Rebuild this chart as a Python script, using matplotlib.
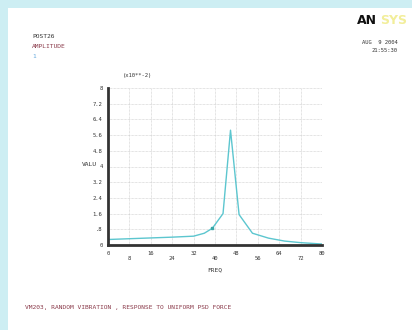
import matplotlib
matplotlib.use("Agg")
import matplotlib.pyplot as plt
from matplotlib.patches import Rectangle

# frequency response values (x10**-2)
freq = [0, 8, 16, 24, 32, 36, 39, 43, 45.8, 49, 54, 60, 66, 72, 80]
valu = [0.28, 0.32, 0.36, 0.4, 0.45, 0.6, 0.85, 1.6, 5.85, 1.55, 0.6, 0.35, 0.2, 0.12, 0.05]

xticks = [0, 8, 16, 24, 32, 40, 48, 56, 64, 72, 80]
yticks = [0, 0.8, 1.6, 2.4, 3.2, 4.0, 4.8, 5.6, 6.4, 7.2, 8.0]
ylabels = ["0", ".8", "1.6", "2.4", "3.2", "4", "4.8", "5.6", "6.4", "7.2", "8"]

mono = "DejaVu Sans Mono"

fig = plt.figure(figsize=(4.12, 3.30), dpi=100)
fig.patch.set_facecolor("#cdeef3")
fig.patches.append(Rectangle((8 / 412, 0), 1, 1 - 8 / 330, transform=fig.transFigure,
                             facecolor="white", edgecolor="none", zorder=-10))

ax = fig.add_axes([108 / 412, 1 - 245 / 330, 214 / 412, 157 / 330])
ax.set_zorder(5)
ax.set_facecolor("white")
ax.plot(freq, valu, color="#5cc6cf", lw=1.0)
ax.plot([39], [0.85], marker="s", ms=2, color="#3aa8a8")

ax.set_xlim(0, 80)
ax.set_ylim(0, 8)
ax.set_xticks(xticks)
# staggered labels: every other one on a second row
xlabels = [str(t) if i % 2 == 0 else "\n" + str(t) for i, t in enumerate(xticks)]
ax.set_xticklabels(xlabels, fontsize=4, family=mono, color="#333333", linespacing=1.1)
ax.set_yticks(yticks)
ax.set_yticklabels(ylabels, fontsize=4, family=mono, color="#333333")
ax.tick_params(length=0, pad=4)
ax.grid(True, color="#c8c8c8", lw=0.5, ls=(0, (1, 1)))
for s in ["top", "right"]:
    ax.spines[s].set_visible(False)
for s in ["left", "bottom"]:
    ax.spines[s].set_linewidth(2)
    ax.spines[s].set_color("#333333")

fig.text(215 / 412, 1 - 270 / 330, "FREQ", fontsize=4.5, family=mono, color="#333333",
         va="center", ha="center")
fig.text(82 / 412, 1 - 165 / 330, "VALU", fontsize=4.5, family=mono, color="#333333", va="center")
fig.text(123 / 412, 1 - 75 / 330, "(x10**-2)", fontsize=4, family=mono, color="#333333", va="center")

fig.text(32 / 412, 1 - 36 / 330, "POST26", fontsize=4.5, family=mono, color="#333333", va="center")
fig.text(32 / 412, 1 - 47 / 330, "AMPLITUDE", fontsize=4.5, family=mono, color="#8a3a4a", va="center")
fig.text(32 / 412, 1 - 57 / 330, "1", fontsize=4.5, family=mono, color="#66aadd", va="center")

fig.text(357 / 412, 1 - 20 / 330, "AN", fontsize=9, weight="bold", color="#111111", va="center")
fig.text(380 / 412, 1 - 20 / 330, "SYS", fontsize=9, weight="bold", color="#f2ee9a", va="center")
fig.text(398 / 412, 1 - 43 / 330, "AUG  9 2004", fontsize=4, family=mono, color="#333333",
         va="center", ha="right")
fig.text(398 / 412, 1 - 50 / 330, "21:55:30", fontsize=4, family=mono, color="#333333",
         va="center", ha="right")

fig.text(25 / 412, 1 - 308 / 330, "VM203, RANDOM VIBRATION , RESPONSE TO UNIFORM PSD FORCE",
         fontsize=4.5, family=mono, color="#8a3a4a", va="center")

fig.savefig("out.png", dpi=100)
